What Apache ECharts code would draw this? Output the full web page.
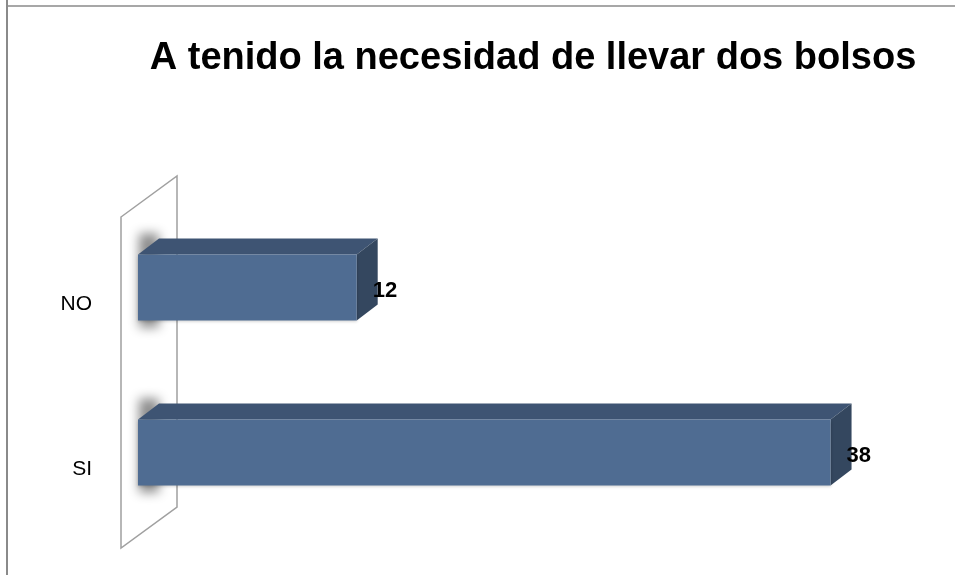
<!DOCTYPE html>
<html>
<head>
<meta charset="utf-8">
<title>A tenido la necesidad de llevar dos bolsos</title>
<script src="https://cdn.jsdelivr.net/npm/echarts@6/dist/echarts.min.js"></script>
<style>
  html, body { margin: 0; padding: 0; background: #fff; }
  #chart { width: 955px; height: 575px; }
</style>
</head>
<body>
<div id="chart"></div>
<script>
// datos
const categories = ['SI', 'NO']
const values = [38, 12]
const titleText = 'A tenido la necesidad de llevar dos bolsos'

// layout
const gridLeft = 138
const gridTop = 205
const gridHeight = 330
const gridRight = 88
const depthX = 21
const depthY = 16

const chart = echarts.init(document.getElementById('chart'))

function renderBar(params, api) {
  const val = api.value(0)
  const cat = api.value(1)
  const p0 = api.coord([0, cat])
  const p1 = api.coord([val, cat])
  const h = api.size([0, 1])[1] * 0.4
  const x0 = p0[0]
  const x1 = p1[0]
  const top = p0[1] - h / 2
  const bottom = p0[1] + h / 2
  return {
    type: 'group',
    children: [
      // sombra difusa sobre la pared (solo se ve la sombra, el rect queda fuera)
      {
        type: 'rect',
        shape: { x: x0 + 1 - 2000, y: top - depthY - 5, width: 20, height: bottom - top + depthY + 12 },
        style: {
          fill: '#000',
          shadowBlur: 11,
          shadowColor: 'rgba(0,0,0,0.45)',
          shadowOffsetX: 2000
        }
      },
      {
        type: 'polygon',
        shape: { points: [[x0, top], [x0 + depthX, top - depthY], [x1 + depthX, top - depthY], [x1, top]] },
        style: { fill: '#3e5473' }
      },
      {
        type: 'polygon',
        shape: { points: [[x1, top], [x1 + depthX, top - depthY], [x1 + depthX, bottom - depthY], [x1, bottom]] },
        style: { fill: '#34475f' }
      },
      {
        type: 'rect',
        shape: { x: x0, y: top, width: x1 - x0, height: h },
        style: { fill: '#4f6c92', shadowBlur: 3, shadowColor: 'rgba(0,0,0,0.2)', shadowOffsetY: 1 }
      },
      {
        type: 'text',
        x: x1 + 16,
        y: p0[1] + 3,
        style: {
          text: String(val),
          fill: '#000',
          font: 'bold 22px "Liberation Sans", sans-serif',
          verticalAlign: 'middle',
          align: 'left'
        }
      }
    ]
  }
}

const gridBottomY = gridTop + gridHeight
const wallFrontX = gridLeft - 17
const wallBackX = gridLeft + 39

chart.setOption({
  animation: false,
  title: {
    text: titleText,
    left: 528,
    top: 35,
    textAlign: 'center',
    textStyle: { fontFamily: 'Liberation Sans', fontWeight: 'bold', fontSize: 38, color: '#000' }
  },
  grid: { left: gridLeft, top: gridTop, height: gridHeight, right: gridRight },
  xAxis: {
    type: 'value',
    min: 0,
    max: 40,
    show: false
  },
  yAxis: {
    type: 'category',
    data: categories,
    axisLine: { show: false },
    axisTick: { show: false },
    splitLine: { show: false },
    axisLabel: {
      margin: 46,
      formatter: '{c|{value}}',
      rich: {
        c: {
          fontFamily: 'Liberation Sans',
          fontSize: 21,
          color: '#000',
          padding: [34, 0, 0, 0]
        }
      }
    }
  },
  graphic: [
    // marco exterior
    { type: 'line', shape: { x1: 7, y1: 0, x2: 7, y2: 575 }, style: { stroke: '#8a8a8a', lineWidth: 2 } },
    { type: 'line', shape: { x1: 7, y1: 6, x2: 955, y2: 6 }, style: { stroke: '#8a8a8a', lineWidth: 1.5 } },
    // pared 3D
    {
      type: 'polygon',
      z: -1,
      shape: {
        points: [
          [wallFrontX, gridTop + 12],
          [wallBackX, gridTop - 29],
          [wallBackX, gridBottomY - 28],
          [wallFrontX, gridBottomY + 13]
        ]
      },
      style: { fill: '#fff', stroke: '#a0a0a0', lineWidth: 1.5 }
    }
  ],
  series: [{
    type: 'custom',
    renderItem: renderBar,
    encode: { x: 0, y: 1 },
    z: 5,
    data: values.map((v, i) => [v, i])
  }]
})
</script>
</body>
</html>
